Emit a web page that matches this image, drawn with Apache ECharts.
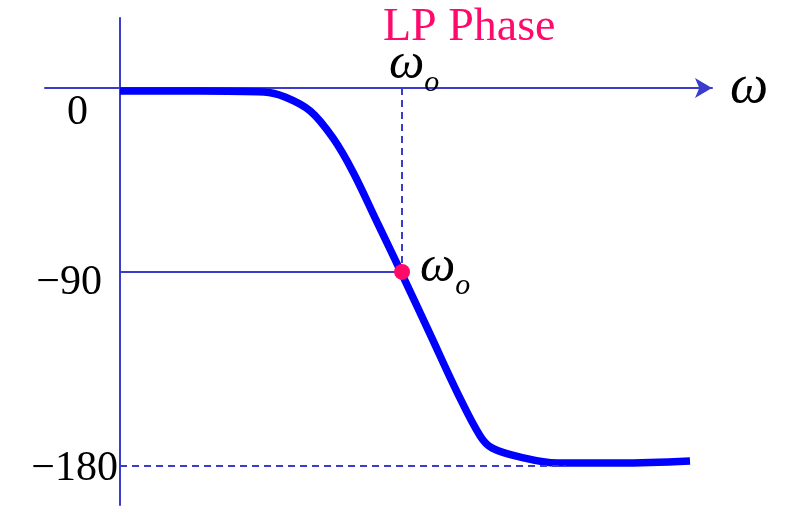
<!DOCTYPE html>
<html>
<head>
<meta charset="utf-8">
<script src="https://cdn.jsdelivr.net/npm/echarts@6/dist/echarts.min.js"></script>
<style>
  html, body { margin: 0; padding: 0; background: #fff; }
  #chart { width: 786px; height: 509px; }
</style>
</head>
<body>
<div id="chart"></div>
<script>
// frequency in units of w0, phase in degrees
var omega = [0, 0.28, 0.51, 0.585, 0.675, 0.755, 0.826, 0.911, 0.996, 1.099, 1.195, 1.277, 1.32, 1.42, 1.55, 1.773, 2.021];
var phase = [-1.4, -1.4, -1.9, -4.3, -11, -23.8, -40, -63.8, -87.6, -117.1, -144.8, -165.7, -171.5, -175.8, -178.6, -178.6, -177.6];
var yTicks = [0, -90, -180];
var markerOmega = 1;
var markerPhase = -87.6;
var floorPhase = -180;
var floorEnd = 1.58;

var axisColor = '#3b3bcc';
var chart = echarts.init(document.getElementById('chart'));

var curve = [];
for (var i = 0; i < omega.length; i++) {
	curve.push([omega[i], phase[i]]);
}

var wo = {
	w: { fontFamily: 'Liberation Serif', fontStyle: 'italic', fontSize: 50, color: '#000', verticalAlign: 'bottom' },
	o: { fontFamily: 'Liberation Serif', fontStyle: 'italic', fontSize: 30, color: '#000', verticalAlign: 'bottom', padding: [0, 0, -8, 0] }
};

chart.setOption({
	animation: false,
	title: {
		text: 'LP Phase',
		left: 378,
		top: 0,
		textStyle: { fontFamily: 'Liberation Serif', fontWeight: 'normal', fontSize: 46, color: '#ff0a6c' }
	},
	grid: { left: 45, right: 74, top: 18, bottom: 4, containLabel: false, outerBoundsMode: 'none' },
	xAxis: {
		type: 'value',
		min: -0.266,
		max: 2.099,
		name: 'ω',
		nameLocation: 'end',
		nameGap: 18,
		nameTextStyle: { fontFamily: 'Liberation Serif', fontStyle: 'italic', fontSize: 54, color: '#000', padding: [0, 0, 30, 0] },
		axisLine: { onZero: true, symbol: ['none', 'arrow'], symbolSize: [15, 17], lineStyle: { color: axisColor, width: 2 } },
		axisTick: { show: false },
		axisLabel: { show: false },
		splitLine: { show: false }
	},
	yAxis: {
		type: 'value',
		min: -198.57,
		max: 33.33,
		axisLine: { onZero: true, lineStyle: { color: axisColor, width: 2 } },
		axisTick: { show: false },
		splitLine: { show: false },
		axisLabel: {
			customValues: yTicks,
			margin: -73,
			formatter: function (v) {
				if (v === 0) return '{a|0}';
				if (v === -90) return '{b|−90}';
				return '{c|−180}';
			},
			rich: {
				a: { fontFamily: 'Liberation Serif', fontSize: 42, color: '#000', padding: [50, 30, 0, 0] },
				b: { fontFamily: 'Liberation Serif', fontSize: 42, color: '#000', padding: [12, 16, 0, 0] },
				c: { fontFamily: 'Liberation Serif', fontSize: 42, color: '#000', padding: [6, 0, 0, 0] }
			}
		}
	},
	series: [{
		type: 'line',
		data: curve,
		smooth: 0.35,
		showSymbol: false,
		lineStyle: { color: '#0000ff', width: 7.5 },
		markLine: {
			silent: true,
			symbol: 'none',
			label: { show: false },
			data: [
				[{ coord: [0, markerPhase], lineStyle: { type: 'solid' } }, { coord: [markerOmega, markerPhase] }],
				[{ coord: [markerOmega, 0] }, { coord: [markerOmega, markerPhase] }],
				[{ coord: [0, floorPhase] }, { coord: [floorEnd, floorPhase] }]
			],
			lineStyle: { color: axisColor, width: 2, type: [7, 5] }
		}
	}, {
		type: 'scatter',
		z: 5,
		itemStyle: { opacity: 1 },
		data: [{
			value: [markerOmega, markerPhase],
			symbolSize: 16,
			itemStyle: { color: '#ff0a66', opacity: 1 },
			label: { show: true, position: 'right', distance: 10, offset: [0, -4], formatter: '{w|ω}{o|o}', rich: wo }
		}, {
			value: [markerOmega, 0],
			symbolSize: 0,
			label: { show: true, position: 'top', distance: -2, offset: [12, 0], formatter: '{w|ω}{o|o}', rich: wo }
		}]
	}]
});
</script>
</body>
</html>
